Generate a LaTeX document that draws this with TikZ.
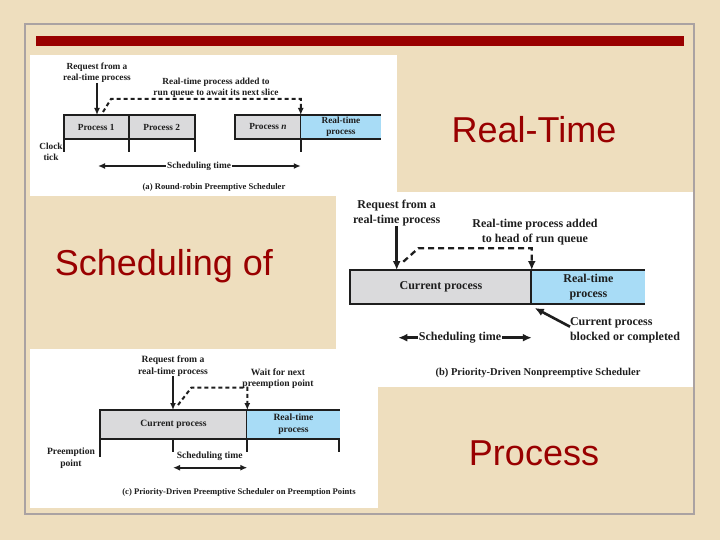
\documentclass[tikz,border=0pt]{standalone}
\usepackage{fontspec}
\setmainfont{Liberation Serif}
\newfontfamily\slidefont{Liberation Sans}
\usetikzlibrary{arrows.meta}

\definecolor{parchment}{RGB}{238,222,190}
\definecolor{slidered}{RGB}{153,0,0}
\definecolor{framegray}{RGB}{170,162,162}
\definecolor{procgray}{RGB}{218,218,220}
\definecolor{rtblue}{RGB}{168,220,246}
\definecolor{ink}{RGB}{30,30,30}

\begin{document}
\begin{tikzpicture}[x=1pt,y=-1pt,
  every node/.style={inner sep=0pt,outer sep=0pt,text=ink},
  lblA/.style={font=\bfseries\fontsize{9.3}{11.3}\selectfont,align=center},
  lblB/.style={font=\bfseries\fontsize{12}{15}\selectfont,align=center},
  lblC/.style={font=\bfseries\fontsize{9.6}{11.7}\selectfont,align=center},
  big/.style={font=\slidefont\fontsize{36}{40}\selectfont,text=slidered},
  arrA/.style={draw=ink,line width=2pt,-{Latex[length=7pt,width=6pt]}},
  arrB/.style={draw=ink,line width=2.6pt,-{Latex[length=9pt,width=8pt]}},
  arrC/.style={draw=ink,line width=2pt,-{Latex[length=7pt,width=6pt]}},
  dashA/.style={arrA,dash pattern=on 4pt off 3pt},
  dashB/.style={arrB,line width=2.3pt,dash pattern=on 6pt off 4pt},
  dashC/.style={arrC,dash pattern=on 4pt off 3pt}]

\fill[parchment] (0,0) rectangle (720,540);
\fill[slidered] (36,36) rectangle (684,46);

% (a) round robin
\fill[white] (30,55) rectangle (397,196);
\node[lblA] (reqa) at (97,73) {Request from a\\real-time process};
\node[lblA] (adda) at (216,88) {Real-time process added to\\run queue to await its next slice};
\node[lblA,draw=ink,line width=1.9pt,fill=procgray,minimum width=65pt,minimum height=24pt] (p1) at (96.2,127) {Process 1};
\node[lblA,draw=ink,line width=1.9pt,fill=procgray,minimum width=66pt,minimum height=24pt] (p2) at (161.7,127) {Process 2};
\node[lblA,draw=ink,line width=1.9pt,fill=procgray,minimum width=65.7pt,minimum height=24pt] (pn) at (267.9,127) {Process \textit{n}};
\node[lblA,fill=rtblue,minimum width=80.3pt,minimum height=24pt] (rta) at (340.9,127) {Real-time\\process};
\draw[ink,line width=1.9pt] (rta.north west) -- (rta.north east) (rta.south west) -- (rta.south east);
\foreach \a in {p1.south west,p1.south east,p2.south east,pn.south east}
  \draw[ink,line width=1.9pt] (\a) -- ++(0,12.7);
\draw[arrA] (reqa.south) -- (reqa.south |- p1.north);
\coordinate (da) at (103,112);
\coordinate (qa) at (111,99);
\draw[dashA] (da) -- (qa) -| (pn.north east);
\node[lblA] (clk) at (51,152) {Clock\\tick};
\node[lblA,inner sep=1pt] (sta) at (199,166) {Scheduling time};
\coordinate (sa1) at (98,166);
\coordinate (sa2) at (pn.south east |- sta);
\draw[arrA] (sta.west) -- (sa1);
\draw[arrA] (sta.east) -- (sa2);
\node[lblA,font=\bfseries\fontsize{8.6}{10}\selectfont] (capa) at (214,187) {(a) Round-robin Preemptive Scheduler};

\node[big] (t1) at (534,130) {Real-Time};

% (b) nonpreemptive
\fill[white] (336,192) rectangle (693,387);
\node[lblB] (reqb) at (396.7,213) {Request from a\\real-time process};
\node[lblB] (addb) at (535,232.5) {Real-time process added\\to head of run queue};
\node[lblB,draw=ink,line width=2.6pt,fill=procgray,minimum width=181.7pt,minimum height=34pt] (curb) at (440.9,287) {Current process};
\node[lblB,fill=rtblue,minimum width=113.3pt,minimum height=34pt] (rtb) at (588.4,287) {Real-time\\process};
\draw[ink,line width=2.6pt] (rtb.north west) -- (rtb.north east) (rtb.south west) -- (rtb.south east);
\draw[arrB] (reqb.south) -- (reqb.south |- curb.north);
\coordinate (db) at (403.3,261.7);
\coordinate (qb) at (418.3,248.3);
\draw[dashB] (db) -- (qb) -| (curb.north east);
\node[lblB,align=left,anchor=west] (blk) at (570,330.7) {Current process\\blocked or completed};
\draw[arrB] ([yshift=4pt]blk.west) -- ([shift={(3pt,-4pt)}]curb.south east);
\node[lblB,inner sep=1pt] (stb) at (460,337.7) {Scheduling time};
\coordinate (sb1) at (398.3,337.7);
\coordinate (sb2) at (curb.south east |- stb);
\draw[arrB] (stb.west) -- (sb1);
\draw[arrB] (stb.east) -- (sb2);
\node[lblB,font=\bfseries\fontsize{10.5}{12}\selectfont] (capb) at (538,372.7) {(b) Priority-Driven Nonpreemptive Scheduler};

% (c) preemption points
\fill[white] (30,349) rectangle (378,508);
\node[lblC] (reqc) at (173,366) {Request from a\\real-time process};
\node[lblC] (waitc) at (278,378.7) {Wait for next\\preemption point};
\node[lblC,draw=ink,line width=1.9pt,fill=procgray,minimum width=147.6pt,minimum height=29pt] (curc) at (173.5,424.5) {Current process};
\node[lblC,fill=rtblue,minimum width=92.4pt,minimum height=29pt] (rtc) at (293.5,424.5) {Real-time\\process};
\draw[ink,line width=1.9pt] (rtc.north west) -- (rtc.north east) (rtc.south west) -- (rtc.south east);
\draw[ink,line width=1.9pt] (curc.south west) -- ++(0,17.7);
\foreach \a in {curc.south,curc.south east,rtc.south east}
  \draw[ink,line width=1.9pt] ([xshift=-0.5pt]\a) -- ++(0,12.7);
\draw[arrC] (reqc.south) -- (reqc.south |- curc.north);
\coordinate (dc) at (178,405);
\coordinate (qc) at (191.3,387.7);
\draw[dashC] (dc) -- (qc) -| (curc.north east);
\node[lblC] (prc) at (71,458.3) {Preemption\\point};
\node[lblC] (stc) at (209.7,456.7) {Scheduling time};
\coordinate (sc1) at (173,467.7);
\coordinate (sc2) at (curc.south east |- sc1);
\draw[arrC,{Latex[length=7pt,width=6pt]}-{Latex[length=7pt,width=6pt]}] (sc1) -- (sc2);
\node[lblC,font=\bfseries\fontsize{8.6}{10}\selectfont] (capc) at (239,492.3) {(c) Priority-Driven Preemptive Scheduler on Preemption Points};

\node[big] (t2) at (164,266) {Scheduling of};
\node[big] (t3) at (534,453) {Process};

\draw[framegray,line width=2pt] (24.5,24.5) rectangle (693.5,513.5);
\end{tikzpicture}
\end{document}
